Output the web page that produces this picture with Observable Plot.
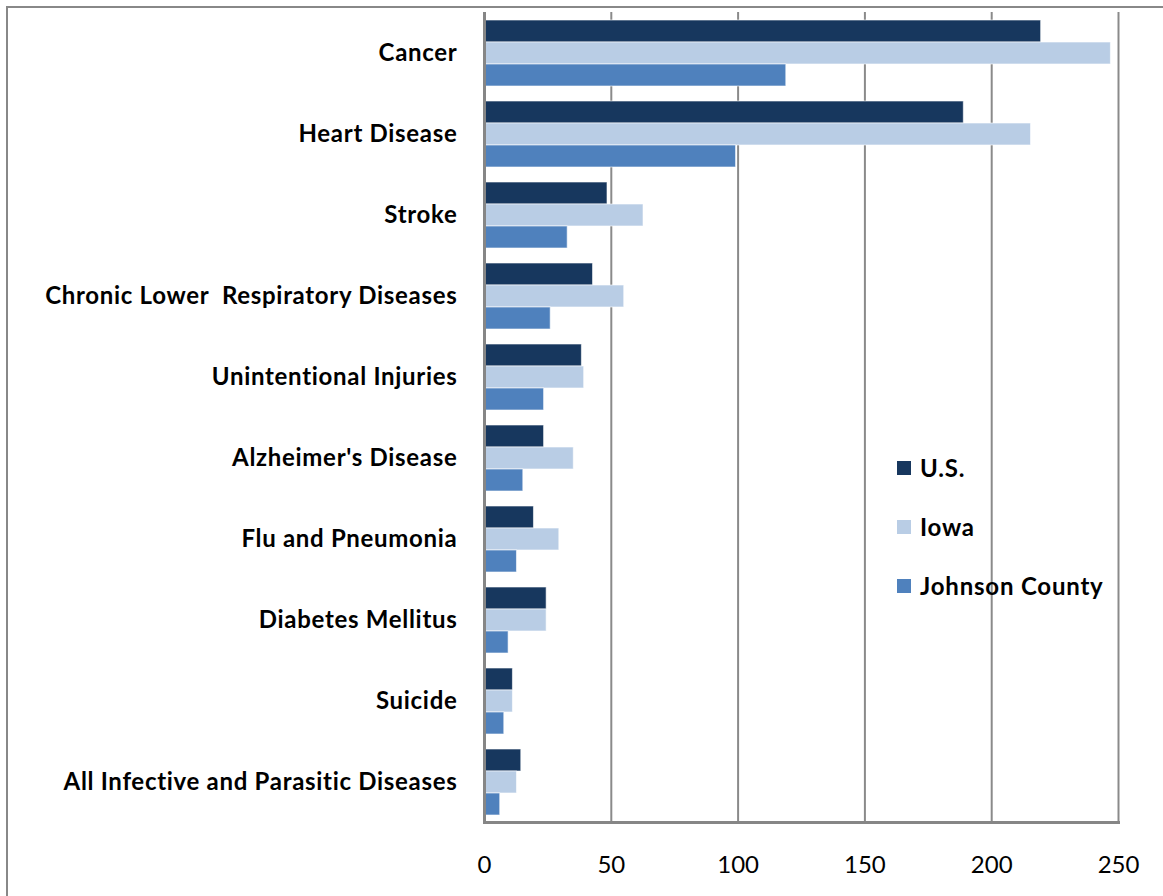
<!DOCTYPE html>
<html><head><meta charset="utf-8">
<script src="https://cdn.jsdelivr.net/npm/d3@7"></script>
<script src="https://cdn.jsdelivr.net/npm/@observablehq/plot@0.6"></script>
<style>
body{margin:0;background:#fff;}
#wrap{position:relative;width:1163px;height:896px;overflow:hidden;font-family:Lato,"Open Sans",sans-serif;}
#frame{position:absolute;left:6px;top:6px;width:1300px;height:1000px;border-left:2.5px solid #888;border-top:2.5px solid #888;pointer-events:none;}
#chart{position:absolute;left:0;top:0;}
#legend{position:absolute;left:897px;top:438px;}
.item{display:flex;align-items:center;height:59px;font-weight:bold;font-size:24px;letter-spacing:0.8px;color:#000;}
.sw{width:14px;height:14px;margin-right:9px;}
svg g[aria-label="fy-axis tick label"] text{letter-spacing:0.7px;}
</style>
</head><body>
<div id="wrap"><div id="chart"></div><div id="frame"></div><div id="legend"></div></div>
<script>
const causes = ["Cancer","Heart Disease","Stroke","Chronic Lower  Respiratory Diseases","Unintentional Injuries","Alzheimer's Disease","Flu and Pneumonia","Diabetes Mellitus","Suicide","All Infective and Parasitic Diseases"];
const series = ["U.S.","Iowa","Johnson County"];
const usValues = [219.5, 189, 48.5, 42.8, 38.4, 23.5, 19.5, 24.5, 11.2, 14.5];
const iowaValues = [247, 215.5, 62.7, 55.1, 39.3, 35.2, 29.5, 24.5, 11.2, 12.8];
const johnsonValues = [119, 99.2, 32.8, 26.1, 23.5, 15.3, 12.8, 9.5, 7.8, 6.2];
const colors = ["#17375E","#B9CDE5","#4F81BD"];
const xTicks = [0,50,100,150,200,250];

const valueSets = [usValues, iowaValues, johnsonValues];
const table = [];
causes.forEach((c,i)=>series.forEach((s,j)=>table.push({cause:c, series:s, value:valueSets[j][i]})));

const chart = Plot.plot({
  width:1163, height:896,
  marginLeft:484, marginRight:45, marginTop:12, marginBottom:74,
  style:{fontFamily:"Lato, sans-serif", fontSize:"24px", color:"#000", background:"transparent", overflow:"visible"},
  x:{domain:[0,250]},
  y:{domain:series, paddingInner:0, paddingOuter:0.34, axis:null},
  fy:{domain:causes, padding:0},
  color:{domain:series, range:colors},
  marks:[
    Plot.gridX({ticks:xTicks.slice(1), stroke:"#8a8a8a", strokeOpacity:1, strokeWidth:2}),
    Plot.barX(table, {x:"value", y:"series", fy:"cause", fill:"series", stroke:"#fff", strokeOpacity:0.6, strokeWidth:1}),
    Plot.ruleX([0], {stroke:"#868686", strokeWidth:3}),
    Plot.frame({anchor:"bottom", facetAnchor:"bottom", stroke:"#868686", strokeWidth:3}),
    Plot.axisX({anchor:"bottom", ticks:xTicks, tickSize:0, tickPadding:33, label:null, fontSize:24}),
    Plot.axisFy({anchor:"left", tickSize:0, tickPadding:27, label:null, fontWeight:"bold", fontSize:24})
  ]
});
document.getElementById("chart").appendChild(chart);

const lg = document.getElementById("legend");
series.forEach((s,i)=>{
  const it = document.createElement("div"); it.className="item";
  const sw = document.createElement("span"); sw.className="sw"; sw.style.background=colors[i];
  it.appendChild(sw); it.appendChild(document.createTextNode(s)); lg.appendChild(it);
});
</script>
</body></html>
